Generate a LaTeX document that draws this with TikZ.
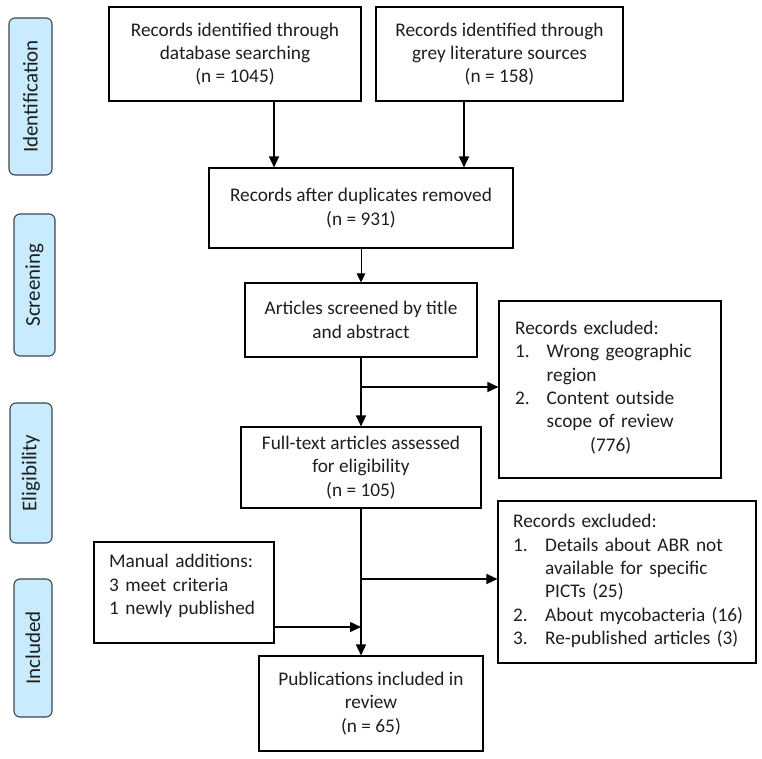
\documentclass[tikz,border=0pt]{standalone}
\usepackage{fontspec}
\setmainfont{Carlito}
\usetikzlibrary{arrows.meta}
\definecolor{sidefill}{RGB}{200,236,253}
\definecolor{sideline}{RGB}{60,70,80}
\definecolor{txt}{RGB}{30,30,30}
\begin{document}
\begin{tikzpicture}[x=1pt,y=1pt,
 box/.style={draw=black, line width=1.1pt, align=center, inner sep=0pt, text=txt,
   font=\fontsize{19.3}{23.3}\selectfont},
 listtext/.style={anchor=west, inner sep=0pt, text width=240pt, align=left, text=txt,
   font=\fontsize{19.3}{23.3}\selectfont},
 side/.style={draw=sideline, fill=sidefill, rounded corners=6pt, line width=1.1pt,
   rotate=90, inner sep=0pt, text=txt, font=\fontsize{21}{24}\selectfont},
 arr/.style={line width=1.4pt, -{Triangle[length=11pt,width=10pt]}},
 thinarr/.style={line width=0.9pt, -{Triangle[length=9pt,width=8.5pt]}}]
\useasboundingbox (0,0) rectangle (762,-759);

% side labels
\node[side, minimum width=157pt, minimum height=43pt] (s1) at (30.5,-96.5) {Identification};
\node[side, minimum width=142pt, minimum height=41pt] (s2) at (34.5,-285) {Screening};
\node[side, minimum width=140pt, minimum height=42pt] (s3) at (31,-473) {Eligibility};
\node[side, minimum width=138pt, minimum height=38pt] (s4) at (33,-648) {Included};

% main boxes
\node[box, minimum width=252pt, minimum height=94pt] (A) at (235,-54)
  {Records identified through\\database searching\\(n = 1045)};
\node[box, minimum width=247pt, minimum height=94pt] (B) at (499.5,-54)
  {Records identified through\\grey literature sources\\(n = 158)};
\node[box, minimum width=304pt, minimum height=80pt] (C) at (361,-208)
  {Records after duplicates removed\\(n = 931)};
\node[box, minimum width=232pt, minimum height=74pt] (D) at (361,-320)
  {Articles screened by title\\and abstract};
\node[box, minimum width=240pt, minimum height=81pt] (E) at (361,-467.5)
  {Full-text articles assessed\\for eligibility\\(n = 105)};
\node[box, minimum width=224pt, minimum height=95pt] (G) at (371,-703.5)
  {Publications included in\\review\\(n = 65)};

% list boxes
\node[box, minimum width=222pt, minimum height=177pt] (F) at (610,-389.5) {};
\node[listtext] (Ft) at (515,-387.5)
  {Records excluded:\\
   \makebox[31.5pt][l]{1.}Wrong geographic\\
   \hspace*{31.5pt}region\\
   \makebox[31.5pt][l]{2.}Content outside\\
   \hspace*{31.5pt}scope of review\\
   \hspace*{75pt}(776)};

\node[box, minimum width=258pt, minimum height=162pt] (I) at (627,-582) {};
\node[listtext] (It) at (513,-581)
  {Records excluded:\\
   \makebox[32pt][l]{1.}Details about ABR not\\
   \hspace*{32pt}available for specific\\
   \hspace*{32pt}PICTs (25)\\
   \makebox[32pt][l]{2.}About mycobacteria (16)\\
   \makebox[32pt][l]{3.}Re-published articles (3)};

\node[box, minimum width=180pt, minimum height=101pt] (H) at (184,-592.5) {};
\node[listtext] (Ht) at (109,-586)
  {Manual additions:\\3 meet criteria\\1 newly published};

% connectors
\coordinate (xa) at (274,0);
\coordinate (xb) at (464,0);
\coordinate (b1) at (361,-387);
\coordinate (b2) at (361,-579);
\coordinate (hy) at (0,-627);

\draw[arr] (A.south -| xa) -- (C.north -| xa);
\draw[arr] (B.south -| xb) -- (C.north -| xb);
\draw[thinarr] (C.south) -- (D.north);
\draw[arr] (D.south) -- (E.north);
\draw[arr] (b1) -- (b1 -| F.west);
\draw[arr] (E.south) -- (E.south |- G.north);
\draw[arr] (b2) -- (b2 -| I.west);
\draw[arr] (H.east |- hy) -- (E.south |- hy);
\end{tikzpicture}
\end{document}
